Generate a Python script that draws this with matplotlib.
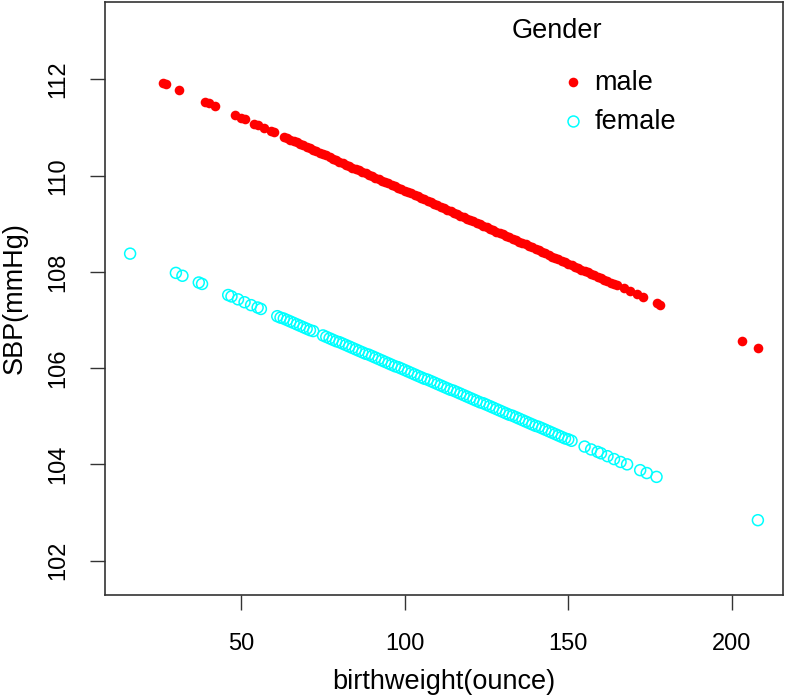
import matplotlib
matplotlib.use("Agg")
import matplotlib.pyplot as plt

plt.rcParams['font.family'] = ['Liberation Sans', 'DejaVu Sans']

# fitted SBP by birthweight
male_bw = [26, 27, 31, 39, 40, 42, 48, 50, 51, 54, 55, 57, 59, 60,
           63, 64, 65, 66, 67, 68, 69, 70, 71, 72, 73, 74, 75, 76, 77, 78, 79, 80,
           81, 82, 83, 84, 85, 86, 87, 88, 89, 90, 91, 92, 93, 94, 95, 96, 97, 98,
           99, 100, 101, 102, 103, 104, 105, 106, 107, 108, 109, 110, 111, 112, 113,
           114, 115, 116, 117, 118, 119, 120, 121, 122, 123, 124, 125, 126, 127, 128,
           129, 130, 131, 132, 133, 134, 135, 136, 137, 138, 139, 140, 141, 142, 143,
           144, 145, 146, 147, 148, 149, 150, 151, 152, 153, 154, 155, 156, 157, 158,
           159, 160, 161, 162, 163, 164, 165, 167, 169, 171, 173, 177, 178, 203, 208]
male_sbp = [111.93, 111.90, 111.78, 111.54, 111.51, 111.45, 111.26, 111.20, 111.17,
            111.08, 111.05, 110.99, 110.93, 110.90,
            110.81, 110.78, 110.75, 110.72, 110.69, 110.66, 110.63, 110.60, 110.57, 110.54,
            110.51, 110.48, 110.45, 110.42, 110.38, 110.35, 110.32, 110.29,
            110.26, 110.23, 110.20, 110.17, 110.14, 110.11, 110.08, 110.05, 110.02, 109.99,
            109.96, 109.93, 109.90, 109.87, 109.84, 109.81, 109.78, 109.75,
            109.72, 109.69, 109.66, 109.63, 109.60, 109.57, 109.54, 109.51, 109.48, 109.45,
            109.42, 109.39, 109.35, 109.32, 109.29,
            109.26, 109.23, 109.20, 109.17, 109.14, 109.11, 109.08, 109.05, 109.02, 108.99,
            108.96, 108.93, 108.90, 108.87, 108.84,
            108.81, 108.78, 108.75, 108.72, 108.69, 108.66, 108.63, 108.60, 108.57, 108.54,
            108.51, 108.48, 108.45, 108.42, 108.39,
            108.35, 108.32, 108.29, 108.26, 108.23, 108.20, 108.17, 108.14, 108.11, 108.08,
            108.05, 108.02, 107.99, 107.96, 107.93,
            107.90, 107.87, 107.84, 107.81, 107.78, 107.75, 107.72, 107.66, 107.60, 107.54,
            107.48, 107.35, 107.32, 106.57, 106.42]

female_bw = [16, 30, 32, 37, 38, 46, 47, 49, 51, 53, 55, 56,
             61, 62, 63, 64, 65, 66, 67, 68, 69, 70, 71, 72,
             75, 76, 77, 78, 79, 80, 81, 82, 83, 84, 85, 86, 87, 88, 89, 90, 91, 92,
             93, 94, 95, 96, 97, 98, 99, 100, 101, 102, 103, 104, 105, 106, 107, 108,
             109, 110, 111, 112, 113, 114, 115, 116, 117, 118, 119, 120, 121, 122, 123,
             124, 125, 126, 127, 128, 129, 130, 131, 132, 133, 134, 135, 136, 137, 138,
             139, 140, 141, 142, 143, 144, 145, 146, 147, 148, 149, 150, 151,
             155, 157, 159, 160, 162, 164, 166, 168, 172, 174, 177, 208]
female_sbp = [108.38, 107.98, 107.92, 107.78, 107.75, 107.52, 107.49, 107.43, 107.37,
              107.31, 107.26, 107.23,
              107.08, 107.05, 107.03, 107.00, 106.97, 106.94, 106.91, 106.88, 106.85,
              106.82, 106.79, 106.77,
              106.68, 106.65, 106.62, 106.59, 106.56, 106.54, 106.51, 106.48, 106.45,
              106.42, 106.39, 106.36, 106.33, 106.30, 106.28, 106.25, 106.22, 106.19,
              106.16, 106.13, 106.10, 106.07, 106.04, 106.02, 105.99, 105.96, 105.93,
              105.90, 105.87, 105.84, 105.81, 105.78, 105.76, 105.73,
              105.70, 105.67, 105.64, 105.61, 105.58, 105.55, 105.53, 105.50, 105.47,
              105.44, 105.41, 105.38, 105.35, 105.32, 105.29,
              105.27, 105.24, 105.21, 105.18, 105.15, 105.12, 105.09, 105.06, 105.03,
              105.01, 104.98, 104.95, 104.92, 104.89, 104.86,
              104.83, 104.80, 104.78, 104.75, 104.72, 104.69, 104.66, 104.63, 104.60,
              104.57, 104.54, 104.52, 104.49,
              104.37, 104.31, 104.26, 104.23, 104.17, 104.11, 104.05, 104.00, 103.88,
              103.82, 103.74, 102.84]

x_ticks = [50, 100, 150, 200]
y_ticks = [102, 104, 106, 108, 110, 112]

fig = plt.figure(figsize=(7.86, 7.0), dpi=100)
ax = fig.add_axes([105 / 786, 105 / 700, 678 / 786, 593 / 700])

male = ax.scatter(male_bw, male_sbp, s=48, color='#FF0000', linewidths=0, label='male')
female = ax.scatter(female_bw, female_sbp, s=62, facecolors='none', edgecolors='#00FFFF',
                    linewidths=1.1, label='female')

ax.set_xlim(8.32, 215.68)
ax.set_ylim(101.285, 113.61)
ax.set_xticks(x_ticks)
ax.set_yticks(y_ticks)
ax.tick_params(axis='both', direction='out', length=10.5, width=1.0, color='#333333',
               labelsize=17)
ax.tick_params(axis='x', pad=17)
ax.tick_params(axis='y', pad=15)
for lab in ax.get_yticklabels():
    lab.set_rotation(90)
    lab.set_va('center')
for sp in ax.spines.values():
    sp.set_color('#333333')
    sp.set_linewidth(1.2)

ax.set_xlabel('birthweight(ounce)', fontsize=19.5, labelpad=10)
ax.set_ylabel('SBP(mmHg)', fontsize=19.5, labelpad=14)

ax.text(0.600, 0.951, 'Gender', transform=ax.transAxes, fontsize=19.5,
        ha='left', va='center')
ax.legend(handles=[male, female], loc='upper left', bbox_to_anchor=(0.681, 0.886),
          frameon=False, fontsize=19.5, handlelength=0.5, handletextpad=0.53,
          labelspacing=0.48, borderpad=0, borderaxespad=0, scatterpoints=1)

fig.savefig('out.png', dpi=100)
